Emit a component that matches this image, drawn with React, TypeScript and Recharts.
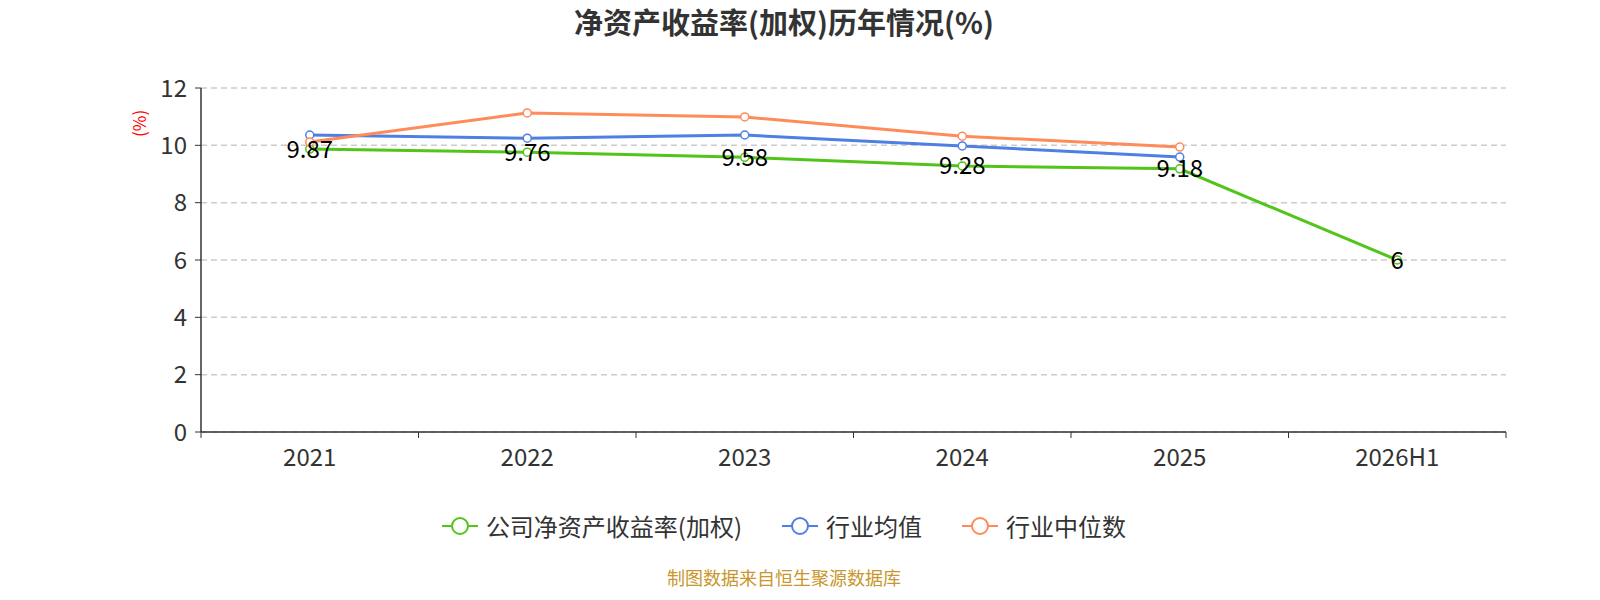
import React from "react";
import {
  LineChart,
  Line,
  XAxis,
  YAxis,
  CartesianGrid,
  Legend,
  LabelList,
} from "recharts";

const years = ["2021", "2022", "2023", "2024", "2025", "2026H1"];
const companyRoe = [9.87, 9.76, 9.58, 9.28, 9.18, 6];
const industryAvg = [10.36, 10.25, 10.36, 9.98, 9.59, null];
const industryMedian = [10.12, 11.13, 10.99, 10.32, 9.94, null];
const yTicks = [0, 2, 4, 6, 8, 10, 12];

const series = [
  { key: "company", name: "公司净资产收益率(加权)", color: "#52c41a" },
  { key: "avg", name: "行业均值", color: "#4e7fe3" },
  { key: "median", name: "行业中位数", color: "#ff8b5a" },
];

const data = years.map((year, i) => ({
  year,
  company: companyRoe[i],
  avg: industryAvg[i],
  median: industryMedian[i],
}));

const FONT = "'Noto Sans CJK SC', 'Noto Sans', sans-serif";
const PLOT_LEFT = 201;
const PLOT_RIGHT = 1506;
const BAND = (PLOT_RIGHT - PLOT_LEFT) / years.length;

const XTick = (props: any) => {
  const { x, y, payload, index } = props;
  const half = BAND / 2;
  return (
    <g>
      <line x1={x - half} x2={x - half} y1={y - 8} y2={y - 2} stroke="#333" />
      {index === years.length - 1 && (
        <line x1={x + half} x2={x + half} y1={y - 8} y2={y - 2} stroke="#333" />
      )}
      <text
        x={x}
        y={y + 15}
        textAnchor="middle"
        dominantBaseline="central"
        fontSize={24}
        fill="#333"
        fontFamily={FONT}
      >
        {payload.value}
      </text>
    </g>
  );
};

const ValueLabel = (props: any) => {
  const { x, y, value } = props;
  if (value == null) return null;
  return (
    <text
      x={x}
      y={y - 2}
      textAnchor="middle"
      dominantBaseline="central"
      fontSize={24}
      fill="#000"
      fontFamily={FONT}
    >
      {value}
    </text>
  );
};

const LegendContent = () => (
  <div
    style={{
      display: "flex",
      justifyContent: "center",
      alignItems: "center",
      gap: 40,
      fontFamily: FONT,
      fontSize: 24,
      color: "#333",
    }}
  >
    {series.map((s) => (
      <div key={s.key} style={{ display: "flex", alignItems: "center", gap: 8 }}>
        <svg width={36} height={20}>
          <line x1={0} x2={36} y1={10} y2={10} stroke={s.color} strokeWidth={2} />
          <circle cx={18} cy={10} r={8} fill="#fff" stroke={s.color} strokeWidth={2} />
        </svg>
        <span>{s.name}</span>
      </div>
    ))}
  </div>
);

export default function App() {
  return (
    <div
      style={{
        position: "absolute",
        left: 0,
        top: 0,
        width: 1600,
        height: 600,
        background: "#fff",
        fontFamily: FONT,
      }}
    >
      <div
        style={{
          position: "absolute",
          left: 0,
          width: 1568,
          top: 0,
          textAlign: "center",
          fontSize: 29,
          fontWeight: "bold",
          color: "#333",
        }}
      >
        净资产收益率(加权)历年情况(%)
      </div>
      <div
        style={{
          position: "absolute",
          left: 0,
          width: 1568,
          top: 564,
          textAlign: "center",
          fontSize: 18,
          color: "#c8962c",
        }}
      >
        制图数据来自恒生聚源数据库
      </div>
      <LineChart
        width={1600}
        height={600}
        data={data}
        margin={{ top: 88, right: 1600 - PLOT_RIGHT, bottom: 103, left: PLOT_LEFT - 60 }}
      >
        <CartesianGrid
          horizontal
          vertical={false}
          stroke="#ccc"
          strokeDasharray="6 4"
          strokeWidth={1.5}
        />
        <XAxis
          dataKey="year"
          axisLine={{ stroke: "#333", strokeWidth: 1.5 }}
          tickLine={false}
          tick={<XTick />}
          height={30}
          interval={0}
          padding={{ left: BAND / 2, right: BAND / 2 }}
        />
        <YAxis
          domain={[0, 12]}
          ticks={yTicks}
          width={60}
          axisLine={{ stroke: "#333", strokeWidth: 1.5 }}
          tickLine={{ stroke: "#333" }}
          tickSize={6}
          tickMargin={8}
          tick={{ fontSize: 24, fill: "#333", fontFamily: FONT }}
          label={{
            value: "(%)",
            angle: -90,
            position: "insideTopLeft",
            dx: -12,
            dy: 44,
            fill: "red",
            fontSize: 17,
            fontFamily: FONT,
          }}
        />
        <Legend
          verticalAlign="bottom"
          content={<LegendContent />}
          wrapperStyle={{ top: 508, left: 0, width: 1568 }}
        />
        {series.map((s) => (
          <Line
            key={s.key}
            dataKey={s.key}
            name={s.name}
            type="linear"
            stroke={s.color}
            strokeWidth={3}
            dot={{ r: 4, fill: "#fff", stroke: s.color, strokeWidth: 1.5 }}
            activeDot={false}
            isAnimationActive={false}
            connectNulls={false}
          >
            {s.key === "company" && (
              <LabelList dataKey="company" content={<ValueLabel />} />
            )}
          </Line>
        ))}
      </LineChart>
    </div>
  );
}
